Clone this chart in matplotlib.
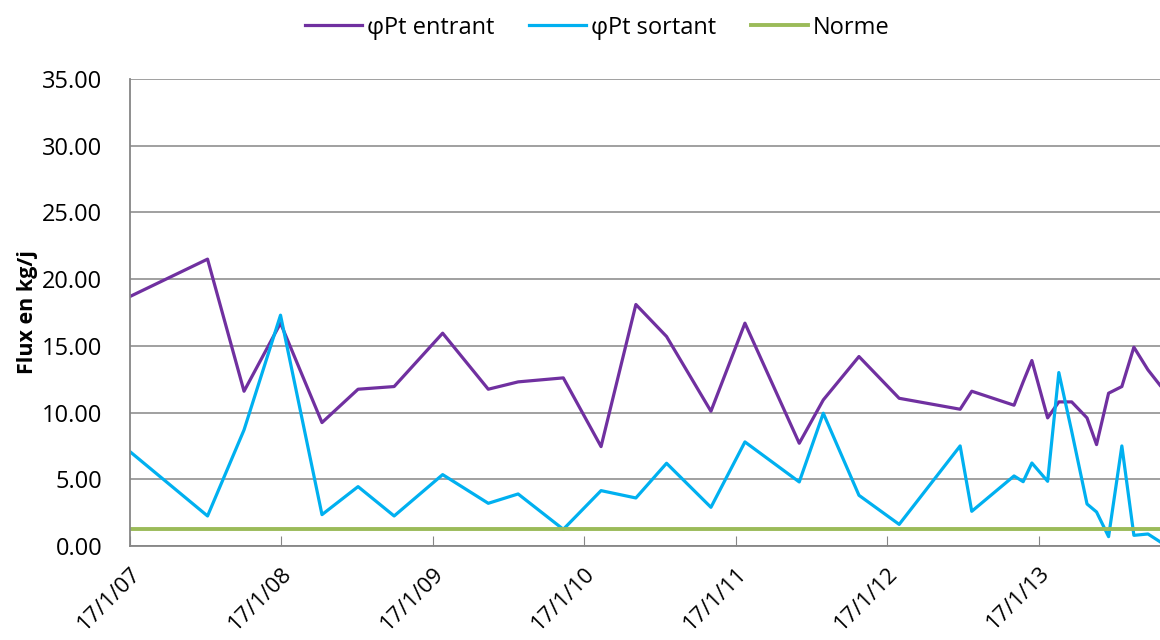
import pandas as pd
import matplotlib.pyplot as plt

plt.rcParams['font.family'] = ['Open Sans', 'DejaVu Sans']

# sampling dates
dates = pd.to_datetime([
    '2007-01-17', '2007-07-23', '2007-10-19', '2008-01-15', '2008-04-24',
    '2008-07-20', '2008-10-15', '2009-02-09', '2009-05-30', '2009-08-10',
    '2009-11-27', '2010-02-26', '2010-05-21', '2010-08-03', '2010-11-18',
    '2011-02-08', '2011-06-19', '2011-08-16', '2011-11-10', '2012-02-15',
    '2012-07-11', '2012-08-08', '2012-11-18', '2012-12-10', '2012-12-31',
    '2013-02-07', '2013-03-06', '2013-04-06', '2013-05-13', '2013-06-05',
    '2013-07-04', '2013-08-05', '2013-09-03', '2013-10-07', '2013-11-05',
])

pt_entrant = [18.7, 21.5, 11.6, 16.7, 9.25, 11.75, 11.95, 15.95, 11.75, 12.3,
              12.6, 7.45, 18.1, 15.7, 10.1, 16.7, 7.7, 10.95, 14.2, 11.07,
              10.25, 11.6, 10.55, 12.3, 13.9, 9.6, 10.8, 10.8, 9.6, 7.6,
              11.45, 11.95, 14.9, 13.2, 12.05]

pt_sortant = [7.07, 2.25, 8.7, 17.3, 2.35, 4.45, 2.25, 5.35, 3.2, 3.9,
              1.25, 4.15, 3.6, 6.2, 2.9, 7.8, 4.8, 9.95, 3.8, 1.62,
              7.5, 2.6, 5.25, 4.82, 6.22, 4.85, 13.0, 8.6, 3.15, 2.55,
              0.7, 7.5, 0.8, 0.9, 0.32]

norme = 1.25

tick_dates = pd.to_datetime(['2007-01-17', '2008-01-17', '2009-01-17', '2010-01-17',
                             '2011-01-17', '2012-01-17', '2013-01-17'])
tick_labels = ['17/1/07', '17/1/08', '17/1/09', '17/1/10', '17/1/11', '17/1/12', '17/1/13']

fig = plt.figure(figsize=(11.6, 6.4), dpi=100)
ax = fig.add_axes([130 / 1160, 1 - 546 / 640, 1 - 130 / 1160, (546 - 79) / 640])

ax.plot(dates, pt_entrant, color='#7030A0', lw=2.3, label='φPt entrant')
ax.plot(dates, pt_sortant, color='#00B0F0', lw=2.3, label='φPt sortant')
ax.plot([dates[0], dates[-1]], [norme, norme], color='#9BBB59', lw=2.8, label='Norme')

ax.set_xlim(dates[0], dates[-1])
ax.set_ylim(0, 35)
ax.set_yticks(range(0, 36, 5))
ax.set_yticklabels([f'{v:.2f}' for v in range(0, 36, 5)], fontsize=17)
ax.set_xticks(tick_dates)
ax.set_xticklabels(tick_labels, fontsize=16, rotation=45, ha='right',
                   rotation_mode='anchor')
ax.tick_params(axis='x', direction='in', length=7, color='#868686', pad=12)
ax.tick_params(axis='y', length=0, pad=20)

ax.grid(axis='y', color='#868686', lw=1.1)
ax.set_axisbelow(True)
for s in ['top', 'right']:
    ax.spines[s].set_visible(False)
for s in ['left', 'bottom']:
    ax.spines[s].set_color('#868686')
    ax.spines[s].set_linewidth(1.3)

ax.set_ylabel('Flux en kg/j', fontsize=15.5, fontweight='bold', labelpad=3)

fig.legend(loc='center', bbox_to_anchor=(0.515, 0.957), ncol=3, frameon=False,
           fontsize=17, handlelength=2.4, handletextpad=0.2, columnspacing=1.5)

fig.savefig('out.png', dpi=100)
